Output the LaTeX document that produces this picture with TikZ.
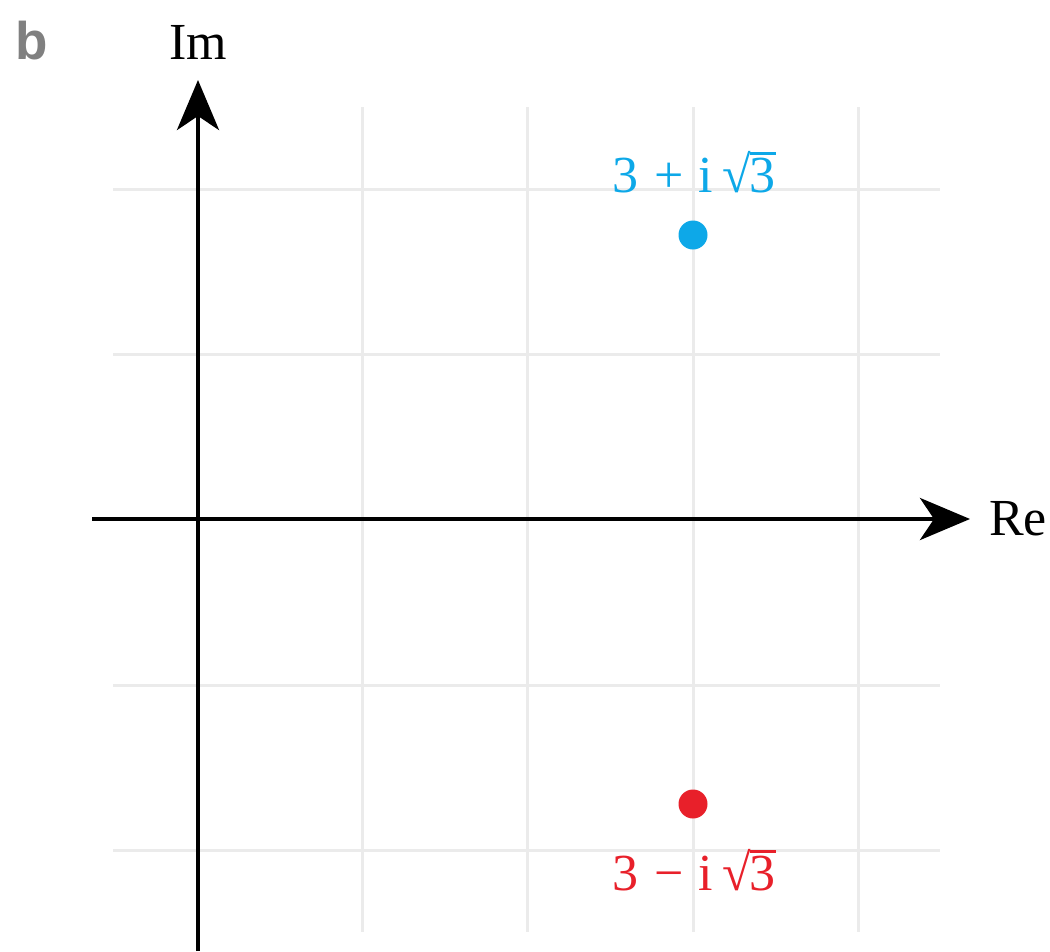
\documentclass[tikz,border=0pt]{standalone}
\usepackage{fontspec}
\setmainfont{Liberation Serif}
\newfontfamily\panelfont{Liberation Sans}
\usetikzlibrary{arrows.meta}
\definecolor{gridgray}{HTML}{EBEBEB}
\definecolor{ptblue}{HTML}{0DA8E8}
\definecolor{ptred}{HTML}{E8202A}
\definecolor{labgray}{HTML}{808080}
\newcommand{\mysqrtthree}{√\kern-0.02em\rlap{\rule[0.72em]{0.5em}{0.05em}}3}
\begin{document}
\begin{tikzpicture}[x=1pt,y=-1pt,
  gridline/.style={gridgray,line width=3pt},
  axisline/.style={line width=4.5pt,-{Stealth[length=50pt,width=42pt,inset=14pt]}},
  dotnode/.style={circle,inner sep=0pt,minimum size=29pt},
  lab/.style={font=\fontsize{52}{52}\selectfont,inner sep=0pt}]
\useasboundingbox (0,0) rectangle (1050,951);
% grid
\foreach \x in {362,527,693,858} \draw[gridline] (\x,107) -- (\x,932);
\foreach \y in {189,354,685,850} \draw[gridline] (113,\y) -- (940,\y);
% axes
\coordinate (xs) at (92,519);
\coordinate (xe) at (970,519);
\coordinate (ys) at (198,951);
\coordinate (ye) at (198,80);
\draw[axisline] (xs) -- (xe);
\draw[axisline] (ys) -- (ye);
% labels
\node[lab,anchor=base west] (re) at (989,535) {Re};
\node[lab,anchor=base west] (im) at (169,59) {Im};
\node[anchor=base west,inner sep=0pt,font=\panelfont\bfseries\fontsize{53}{53}\selectfont,text=labgray] (panel) at (15,59) {b};
% points
\node[dotnode,fill=ptblue] (zp) at (693,235) {};
\node[dotnode,fill=ptred] (zm) at (693,804) {};
\node[lab,anchor=base,text=ptblue] (zpl) at (694,192) {3\hspace{0.3em}+\hspace{0.3em}i\,\mysqrtthree};
\node[lab,anchor=base,text=ptred] (zml) at (694,890) {3\hspace{0.3em}−\hspace{0.3em}i\,\mysqrtthree};
\end{tikzpicture}
\end{document}
